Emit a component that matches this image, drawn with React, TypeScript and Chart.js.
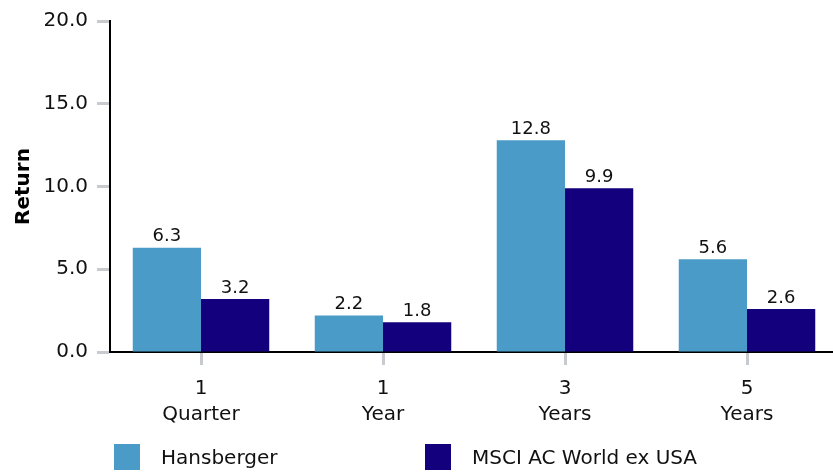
import React, { useEffect, useRef } from "react";
import { Chart, registerables } from "chart.js";

Chart.register(...registerables);

const categories: string[][] = [["1", "Quarter"], ["1", "Year"], ["3", "Years"], ["5", "Years"]];
const seriesNames = ["Hansberger", "MSCI AC World ex USA"];
const hansberger = [6.3, 2.2, 12.8, 5.6];
const msci = [3.2, 1.8, 9.9, 2.6];
const colors = ["#4a9bc7", "#13007c"];
const yMin = 0;
const yMax = 20;
const yStep = 5;
const yTitle = "Return";

const FONT = "'DejaVu Sans', sans-serif";
const TEXT = "#111111";
const TICK = "#c7cbcf";

const valueLabels = {
  id: "valueLabels",
  afterDatasetsDraw(chart: any) {
    const ctx = chart.ctx;
    ctx.save();
    ctx.font = `18px ${FONT}`;
    ctx.fillStyle = TEXT;
    ctx.textAlign = "center";
    ctx.textBaseline = "bottom";
    chart.data.datasets.forEach((ds: any, i: number) => {
      const meta = chart.getDatasetMeta(i);
      meta.data.forEach((bar: any, j: number) => {
        ctx.fillText(Number(ds.data[j]).toFixed(1), bar.x, bar.y - 2);
      });
    });
    ctx.restore();
  },
};

const customLegend = {
  id: "customLegend",
  afterDraw(chart: any) {
    const ctx = chart.ctx;
    const left = chart.chartArea.left + 4;
    const colW = 311;
    const boxTop = chart.height - 31;
    ctx.save();
    ctx.font = `20px ${FONT}`;
    ctx.textBaseline = "middle";
    ctx.textAlign = "left";
    chart.data.datasets.forEach((ds: any, i: number) => {
      const x = left + i * colW;
      ctx.fillStyle = ds.backgroundColor;
      ctx.fillRect(x, boxTop, 26, 26);
      ctx.fillStyle = TEXT;
      ctx.fillText(ds.label, x + 47, boxTop + 15);
    });
    ctx.restore();
  },
};

export default function App() {
  const ref = useRef<HTMLCanvasElement>(null);
  useEffect(() => {
    if (!ref.current) return;
    const chart = new Chart(ref.current, {
      type: "bar",
      data: {
        labels: categories,
        datasets: [
          { label: seriesNames[0], data: hansberger, backgroundColor: colors[0] },
          { label: seriesNames[1], data: msci, backgroundColor: colors[1] },
        ],
      },
      options: {
        animation: false,
        responsive: false,
        devicePixelRatio: 1,
        layout: { padding: { top: 17, bottom: 45, right: 2, left: 0 } },
        datasets: { bar: { categoryPercentage: 0.75, barPercentage: 1 } },
        plugins: { legend: { display: false }, tooltip: { enabled: false } },
        scales: {
          x: {
            afterFit: (s: any) => { s.height = 78; },
            grid: { drawOnChartArea: false, offset: false, drawTicks: true, tickLength: 13, tickColor: TICK, tickWidth: 3 },
            border: { color: "#000", width: 2 },
            ticks: { color: TEXT, font: { family: FONT, size: 20, lineHeight: 1.3 }, padding: 11, maxRotation: 0 },
          },
          y: {
            min: yMin,
            max: yMax,
            afterFit: (s: any) => { s.width = 110; },
            grid: { drawOnChartArea: false, drawTicks: true, tickLength: 13, tickColor: TICK, tickWidth: 3 },
            border: { color: "#000", width: 2 },
            ticks: { stepSize: yStep, color: TEXT, font: { family: FONT, size: 20 }, padding: 9, callback: (v: any) => Number(v).toFixed(1) },
            title: { display: true, text: yTitle, color: "#000", font: { family: FONT, size: 20, weight: "bold" }, padding: { top: 12, bottom: 0 } },
          },
        },
      },
      plugins: [valueLabels, customLegend],
    });
    return () => chart.destroy();
  }, []);
  return (
    <div style={{ position: "fixed", left: 0, top: 0, width: 833, height: 475, overflow: "hidden", background: "#fff" }}>
      <canvas ref={ref} width={840} height={475} />
    </div>
  );
}
